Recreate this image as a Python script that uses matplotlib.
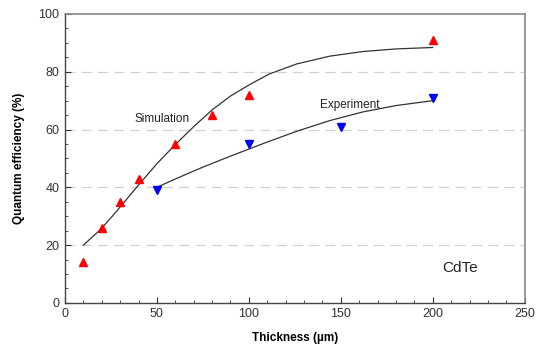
import matplotlib
matplotlib.use("Agg")
import matplotlib.pyplot as plt
from matplotlib.ticker import MultipleLocator

# measured points
sim_x = [10, 20, 30, 40, 60, 80, 100, 200]
sim_y = [14, 26, 35, 43, 55, 65, 72, 91]
exp_x = [50, 100, 150, 200]
exp_y = [39, 55, 61, 71]

# fitted curves
sim_fit_x = [10, 20, 30, 40, 50, 60, 70, 80, 90, 100, 111, 126, 144, 162, 180, 200]
sim_fit_y = [20, 25.8, 33.2, 40.8, 48.2, 54.8, 61, 66.8, 71.6, 75.4, 79.2, 82.7, 85.4,
             87, 87.9, 88.4]
exp_fit_x = [50, 60, 75, 90, 108, 126, 144, 162, 180, 200]
exp_fit_y = [40, 42.9, 47, 50.8, 55.2, 59.4, 63.1, 66.1, 68.3, 70]

plt.rcParams["font.family"] = ["Liberation Sans", "DejaVu Sans"]

fig = plt.figure(figsize=(5.46, 3.49), dpi=100)
ax = fig.add_axes([0.119, 0.132, 0.842, 0.828])

for yg in (20, 40, 60, 80):
    ax.axhline(yg, color="#d0d0d0", lw=0.9, dashes=(8, 5), zorder=0)

ax.plot(sim_fit_x, sim_fit_y, color="#333333", lw=0.9)
ax.plot(exp_fit_x, exp_fit_y, color="#333333", lw=0.9)
ax.plot(sim_x, sim_y, "^", color="red", ms=6, ls="none")
ax.plot(exp_x, exp_y, "v", color="blue", ms=6, ls="none")

ax.text(53, 63.5, "Simulation", fontsize=8.5, ha="center", va="center", color="#222222")
ax.text(155, 68.5, "Experiment", fontsize=8.5, ha="center", va="center", color="#222222")
ax.text(215, 12, "CdTe", fontsize=11, ha="center", va="center", color="#222222")

ax.set_xlim(0, 250)
ax.set_ylim(0, 100)
ax.xaxis.set_major_locator(MultipleLocator(50))
ax.xaxis.set_minor_locator(MultipleLocator(10))
ax.yaxis.set_major_locator(MultipleLocator(20))
ax.yaxis.set_minor_locator(MultipleLocator(5))
ax.tick_params(which="both", direction="in", top=False, right=False,
               labelsize=9, colors="#333333", pad=4)
ax.tick_params(which="major", length=4)
ax.tick_params(which="minor", length=2.5)

for side in ("left", "bottom"):
    ax.spines[side].set_color("#444444")
    ax.spines[side].set_linewidth(1.0)
for side in ("top", "right"):
    ax.spines[side].set_color("#888888")
    ax.spines[side].set_linewidth(1.2)

ax.set_xlabel("Thickness (\u00b5m)", fontsize=8.5, fontweight="bold", labelpad=8)
ax.set_ylabel("Quantum efficiency (%)", fontsize=8.5, fontweight="bold", labelpad=10)

fig.savefig("out.png", dpi=100)
